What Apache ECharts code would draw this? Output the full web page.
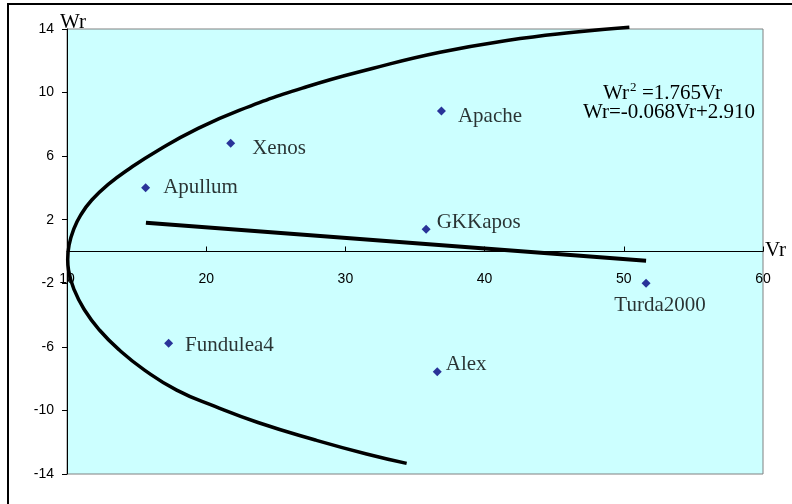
<!DOCTYPE html>
<html>
<head>
<meta charset="utf-8">
<script src="https://cdn.jsdelivr.net/npm/echarts@6/dist/echarts.min.js"></script>
<style>
html, body { margin: 0; padding: 0; background: #fff; }
#chart { width: 792px; height: 504px; }
</style>
</head>
<body>
<div id="chart"></div>
<script>
// cultivars: Vr on x, Wr on y
var names = ['Apullum', 'Xenos', 'Apache', 'GKKapos', 'Turda2000', 'Fundulea4', 'Alex'];
var vrValues = [15.65, 21.76, 36.9, 35.8, 51.6, 17.3, 36.6];
var wrValues = [4.01, 6.81, 8.84, 1.40, -2.0, -5.78, -7.56];

// parabola as drawn (top end -> vertex -> bottom end)
var curveVr = [50.4, 46.4, 41.6, 36.8, 32.0, 27.16, 22.41, 19.21, 16.59, 14.53, 12.96, 11.78, 10.99, 10.46, 10.15, 10.05,
               10.11, 10.52, 11.26, 12.33, 13.76, 15.57, 17.88, 20.63, 23.72, 27.84, 31.52, 34.4];
var curveWr = [14.11, 13.79, 13.27, 12.54, 11.53, 10.35, 8.9, 7.65, 6.39, 5.24, 4.22, 3.24, 2.3, 1.35, 0.41, -0.5,
               -1.16, -2.42, -3.68, -4.94, -6.2, -7.46, -8.72, -9.75, -10.76, -11.86, -12.74, -13.33];

// regression line end points
var lineVr = [15.67, 51.6];
var lineWr = [1.81, -0.58];

var yTicks = [-14, -10, -6, -2, 2, 6, 10, 14];

// label placement per point
var labelPlace = {
    'Apullum':   { position: 'right', offset: [13, 0] },
    'Xenos':     { position: 'right', offset: [17, 5] },
    'Apache':    { position: 'right', offset: [12, 5] },
    'GKKapos':   { position: 'right', offset: [6, -7] },
    'Turda2000': { position: 'inside', offset: [14, 22] },
    'Fundulea4': { position: 'right', offset: [12, 2] },
    'Alex':      { position: 'right', offset: [4, -7] }
};

var serif = 'Liberation Serif';
var sans = 'Liberation Sans';

var chart = echarts.init(document.getElementById('chart'));

var points = names.map(function (n, i) {
    return {
        name: n,
        value: [vrValues[i], wrValues[i]],
        label: {
            show: true,
            formatter: n,
            position: labelPlace[n].position,
            offset: labelPlace[n].offset,
            distance: 0,
            color: '#000',
            fontFamily: serif,
            fontSize: 21
        }
    };
});

var option = {
    animation: false,
    grid: {
        left: 67, right: 29, top: 29, bottom: 30,
        show: true,
        backgroundColor: '#ccffff',
        borderColor: '#808080',
        borderWidth: 1
    },
    xAxis: {
        type: 'value',
        min: 10, max: 60, interval: 10,
        axisLine: { onZero: true, lineStyle: { color: '#000', width: 1 } },
        axisTick: { inside: true, length: 5, lineStyle: { color: '#000' } },
        // labels stay at the grid bottom, pull them up under the zero line
        axisLabel: { margin: -202, color: '#000', fontFamily: sans, fontSize: 14 },
        splitLine: { show: false }
    },
    yAxis: {
        type: 'value',
        min: -14, max: 14,
        axisLine: { show: true, lineStyle: { color: '#000', width: 1 } },
        axisTick: { show: true, length: 5, lineStyle: { color: '#000' }, customValues: yTicks },
        axisLabel: { margin: 13, color: '#000', fontFamily: sans, fontSize: 14, customValues: yTicks },
        splitLine: { show: false }
    },
    series: [
        {
            type: 'line',
            data: curveVr.map(function (v, i) { return [v, curveWr[i]]; }),
            smooth: 0.5,
            showSymbol: false,
            clip: false,
            lineStyle: { color: '#000', width: 3.5 },
            z: 2
        },
        {
            type: 'line',
            data: lineVr.map(function (v, i) { return [v, lineWr[i]]; }),
            showSymbol: false,
            lineStyle: { color: '#000', width: 4 },
            z: 2
        },
        {
            type: 'scatter',
            data: points,
            symbol: 'diamond',
            symbolSize: 9,
            itemStyle: { color: '#000080' },
            z: 3
        }
    ],
    graphic: [
        { type: 'rect', shape: { x: 8, y: 4, width: 820, height: 540 },
          style: { fill: 'none', stroke: '#000', lineWidth: 2 }, silent: true },
        { type: 'text', x: 60, y: 22, style: { text: 'Wr', font: '21px ' + serif, fill: '#000', textVerticalAlign: 'middle' } },
        { type: 'text', x: 765, y: 250, style: { text: 'Vr', font: '21px ' + serif, fill: '#000', textVerticalAlign: 'middle' } },
        { type: 'text', x: 603, y: 93, style: { text: 'Wr', font: '21px ' + serif, fill: '#000', textVerticalAlign: 'middle' } },
        { type: 'text', x: 630, y: 88, style: { text: '2', font: '13px ' + serif, fill: '#000', textVerticalAlign: 'middle' } },
        { type: 'text', x: 642, y: 93, style: { text: '=1.765Vr', font: '21px ' + serif, fill: '#000', textVerticalAlign: 'middle' } },
        { type: 'text', x: 583, y: 112, style: { text: 'Wr=-0.068Vr+2.910', font: '21px ' + serif, fill: '#000', textVerticalAlign: 'middle' } }
    ]
};

chart.setOption(option);
</script>
</body>
</html>
